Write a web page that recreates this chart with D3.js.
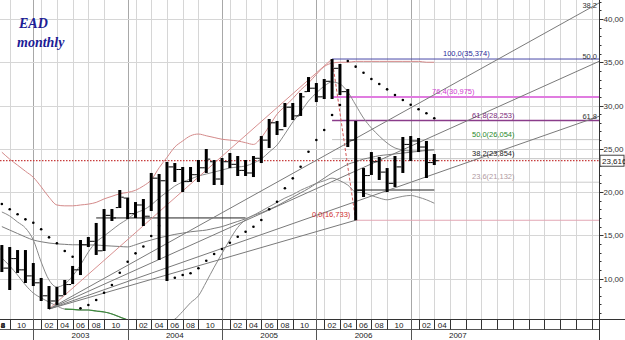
<!DOCTYPE html>
<html>
<head>
<meta charset="utf-8">
<script src="https://cdn.jsdelivr.net/npm/d3@7"></script>
<style>
  html, body { margin: 0; padding: 0; background: #fff; }
  svg { display: block; font-family: Arial, "Liberation Sans", sans-serif; }
</style>
</head>
<body>
<svg id="chart" width="625" height="340"></svg>
<script>
// month index: 0 = Jan 2003; first bar = Sep 2002
const firstMonth = -4;
const opens  = [13.4, 11.2, 12.3, 11.0, 10.3, 9.5, 8.0, 7.4, 8.0, 9.3, 11.0, 13.9, 14.3, 13.2, 17.3, 18.2,
  19.3, 17.5, 18.5, 17.2, 21.6, 21.3, 22.9, 22.6, 21.2, 22.0, 22.8, 23.5, 21.5, 23.5, 23.2, 22.5,
  22.2, 23.9, 26.0, 28.0, 27.2, 29.8, 28.8, 31.6, 32.0, 31.0, 32.8, 34.3, 31.6, 26.0, 20.2, 21.9,
  23.5, 22.3, 21.0, 22.9, 25.5, 25.9, 25.2, 23.4];
const highs  = [13.87, 13.64, 13.29, 13.29, 11.79, 10.06, 9.13, 9.02, 9.83, 11.45, 14.45, 14.80, 16.42, 18.03, 18.03, 20.23,
  19.36, 18.84, 19.19, 22.20, 22.08, 23.47, 23.35, 22.89, 22.89, 23.70, 24.97, 23.70, 23.93, 24.51, 24.16, 23.70,
  24.16, 26.47, 28.44, 28.21, 30.29, 30.29, 31.45, 33.29, 32.60, 33.06, 35.374, 34.80, 31.91, 28.21, 22.77, 24.62,
  24.05, 22.77, 24.16, 26.36, 26.47, 26.24, 25.90, 24.39];
const lows   = [10.75, 8.67, 10.64, 9.48, 9.13, 7.40, 6.47, 6.94, 8.09, 9.36, 10.40, 13.64, 12.72, 13.18, 16.65, 18.15,
  16.88, 16.99, 16.07, 17.80, 12.14, 9.71, 21.16, 20.00, 21.16, 21.16, 22.20, 20.81, 20.81, 22.77, 21.85, 21.85,
  21.73, 23.35, 25.09, 26.59, 27.51, 28.32, 28.79, 31.56, 30.40, 30.75, 30.75, 31.21, 25.20, 16.733, 19.42, 21.97,
  21.39, 20.00, 20.58, 22.20, 23.58, 24.62, 21.62, 23.12];
const closes = [11.2, 12.3, 11.0, 10.3, 9.5, 8.0, 7.4, 8.0, 9.3, 11.0, 13.9, 14.3, 13.2, 17.3, 17.0, 19.4,
  17.5, 18.5, 17.2, 21.6, 21.3, 22.9, 22.6, 21.2, 22.0, 22.8, 23.8, 21.5, 23.5, 23.2, 22.5, 22.2,
  23.9, 26.0, 28.0, 27.2, 29.8, 28.8, 31.0, 32.0, 31.0, 32.8, 34.3, 31.6, 26.0, 20.2, 21.9, 23.5,
  22.3, 21.0, 22.9, 25.5, 25.9, 25.2, 23.4, 23.616];

// parabolic SAR, one value per bar (null = not drawn)
const sar = [18.61, 18.0, 17.42, 16.84, 16.45, 15.69, 14.76, 14.07, 13.18, 12.52, 6.55, 6.94, 7.51, 8.36, 9.25, 10.67,
  11.94, 12.91, 13.70, 14.91, 16.10, null, 10.09, 10.4, 10.6, 11.18, 12.06, 12.83, 13.41, 14.14, 14.83, 15.41,
  15.99, 16.76, 18.0, 18.88, 20.43, 21.58, 22.92, 24.66, 26.01, 27.17, 28.90, 30.06, 35.14, 34.49, 33.79, 33.06,
  32.49, 31.87, 31.21, 30.64, 30.09, 29.56, 29.10, 28.52];

// bands and averages, one value per bar
const upperBand = [24.6, 23.8, 23.1, 22.4, 21.7, 20.6, 19.4, 18.5, 18.4, 18.4, 18.5, 18.6, 18.8, 19.2, 19.5, 19.8,
  19.95, 20.2, 20.7, 21.4, 22.8, 24.0, 25.2, 25.9, 26.5, 26.7, 26.5, 26.3, 26.1, 26.0, 25.9, 25.7,
  25.5, 26.3, 27.6, 29.0, 29.9, 30.8, 31.8, 32.6, 33.6, 34.5, 34.9, 35.0, 35.0, 35.1, 35.1, 35.1,
  35.1, 35.1, 35.1, 35.1, 35.1, 35.1, 35.0, 35.0];
const fastAvg = [17.69, 17.23, 16.53, 15.84, 14.45, 11.91, 9.83, 9.02, 9.36, 10.29, 11.56, 13.06, 14.22, 14.91, 15.61, 16.30,
  16.88, 17.57, 17.92, 18.50, 19.31, 20.0, 20.69, 21.16, 21.50, 21.85, 22.08, 22.31, 22.54, 22.77, 22.89, 23.01,
  23.35, 23.82, 24.62, 25.43, 26.71, 28.09, 29.25, 30.52, 31.45, 32.25, 32.72, 32.49, 31.56, 30.06, 28.55, 27.40,
  26.47, 25.66, 25.09, 24.86, 24.74, 24.74, 24.86, 24.86];
const slowAvg = [16.0, 15.6, 15.2, 14.8, 14.45, 14.25, 14.1, 14.0, 13.95, 13.9, 13.9, 13.88, 13.87, 13.8, 13.75, 13.7,
  13.65, 13.9, 14.2, 14.45, 14.7, 14.9, 15.1, 15.25, 15.4, 15.5, 15.6, 15.8, 16.0, 16.3, 16.6, 16.9,
  17.3, 17.6, 18.0, 18.4, 18.9, 19.4, 19.9, 20.4, 21.0, 21.6, 22.2, 22.7, 23.2, 23.5, 23.8, 24.0,
  24.2, 24.3, 24.4, 24.5, 24.6, 24.7, 24.8, 24.9];
const lowerBand = [12.37, 11.45, 10.40, 9.25, 8.32, 7.75, 7.28, 6.82, 6.47, 6.42, 6.36, 6.36, 6.24, 6.13, 5.90, 5.55,
  5.2, 4.8, 4.5, 4.4, 4.6, 5.0, 5.3, 6.2, 7.2, 8.0, 9.6, 11.3, 12.9, 14.5, 15.9, 16.8,
  17.3, 17.8, 18.3, 18.8, 19.3, 19.7, 20.2, 20.6, 21.0, 21.3, 21.6, 21.3, 20.8, 20.0, 19.9, 19.6,
  19.3, 19.1, 19.3, 19.5, 19.6, 19.4, 19.1, 18.7];
const greenFrom = 4, greenTo = 13;

// fibonacci retracement high (Mar 2006) and low (Jun 2006)
const fibHigh = { month: 38, value: 35.374 };
const fibLow = { month: 41, value: 16.733 };
const fibLevels = [100.0, 76.4, 61.8, 50.0, 38.2, 23.6, 0.0];
const fibColors = ['#4a4aa8', '#e07ce0', '#8a3c8a', '#c4c4c4', '#c4c4c4', '#cccccc', '#e2a6b4'];
const fibTextColors = ['#2a2a9a', '#d040d0', '#7a2a7a', '#2a8a2a', '#222222', '#b09aa0', '#d03030'];
const fibLabelX = [443, 432, 472, 472, 472, 472, 312];

// fibonacci fan from the Mar 2003 low; end values at the right edge
const fanStart = { month: 2, value: 6.47 };
const fanNames = ['38,2', '50,0', '61,8'];
const fanEnds = [41.85, 35.1, 28.75];
const fanLabelDy = [-2, -2, 3];

const yTicks = [10, 15, 20, 25, 30, 35, 40];
const lastPrice = 23.616;
const monthNames = ['02', '04', '06', '08', '10'];
const years = [2003, 2004, 2005, 2006, 2007];

const W = 625, H = 340;
const plotW = 599, plotH = 319;
const svg = d3.select('#chart');
const x = d3.scaleLinear().domain([-4.2353, 71.949]).range([0, plotW]);
const y = d3.scaleLinear().domain([5.318, 42.197]).range([plotH, 0]);
const comma = (v, d) => (v + 1e-7).toFixed(d).replace('.', ',');

svg.append('defs').append('clipPath').attr('id', 'plotClip')
  .append('rect').attr('x', 0).attr('y', 0).attr('width', plotW).attr('height', plotH);

const plot = svg.append('g').attr('clip-path', 'url(#plotClip)');

// month separators: Jan, Feb, Apr, Jun, Aug, Oct for full years, then every 2 months from 2007
const seps = [];
for (let yr = -1; yr < 4; yr++) [0, 1, 3, 5, 7, 9].forEach((m) => seps.push({ i: yr * 12 + m, year: m === 0 }));
seps.push({ i: 48, year: true });
for (let i = 49; i <= 71; i += 2) seps.push({ i, year: false });

// grid
plot.selectAll('.vgrid').data(seps).join('line')
  .attr('x1', (d) => Math.round(x(d.i)) + 0.5).attr('x2', (d) => Math.round(x(d.i)) + 0.5)
  .attr('y1', 0).attr('y2', plotH)
  .attr('stroke', (d) => (d.year ? '#a8a8a8' : '#d6d6d6')).attr('stroke-width', 1);
plot.selectAll('.hgrid').data(yTicks).join('line')
  .attr('x1', 0).attr('x2', plotW)
  .attr('y1', (d) => Math.round(y(d)) + 0.5).attr('y2', (d) => Math.round(y(d)) + 0.5)
  .attr('stroke', '#d6d6d6');

const months = d3.range(opens.length).map((k) => firstMonth + k);
const lineOf = (arr, from, to) => d3.line()
  .defined((d, k) => arr[k] !== null && (from === undefined || (d >= from && d <= to)))
  .x((d) => x(d)).y((d, k) => y(arr[k]))
  .curve(d3.curveMonotoneX)(months);

// fibonacci levels
const fibVal = (p) => fibLow.value + (p / 100) * (fibHigh.value - fibLow.value);
fibLevels.forEach((p, k) => {
  const v = fibVal(p);
  const start = p === 0 ? fibLow.month : fibHigh.month;
  plot.append('line')
    .attr('x1', x(start)).attr('x2', plotW)
    .attr('y1', y(v)).attr('y2', y(v))
    .attr('stroke', fibColors[k]).attr('stroke-width', p === 76.4 ? 2 : (p === 61.8 ? 1.5 : 1));
});
plot.append('line')
  .attr('x1', x(fibHigh.month)).attr('y1', y(fibHigh.value))
  .attr('x2', x(fibLow.month)).attr('y2', y(fibLow.value))
  .attr('stroke', '#d45a5a').attr('stroke-dasharray', '3,2');

// price line
plot.append('line')
  .attr('x1', 0).attr('x2', plotW)
  .attr('y1', y(lastPrice)).attr('y2', y(lastPrice))
  .attr('stroke', '#c83c3c').attr('stroke-width', 1.3).attr('stroke-dasharray', '1.5,1.5');

// horizontal support segments
plot.append('line').attr('x1', x(8)).attr('x2', x(27)).attr('y1', y(17.0)).attr('y2', y(17.0))
  .attr('stroke', '#222');
plot.append('line').attr('x1', x(41)).attr('x2', x(51)).attr('y1', y(20.23)).attr('y2', y(20.23))
  .attr('stroke', '#222');

// bands
plot.append('path').attr('d', lineOf(upperBand)).attr('fill', 'none').attr('stroke', '#d48a8a');
plot.append('path').attr('d', lineOf(slowAvg)).attr('fill', 'none').attr('stroke', '#7c7c7c');
plot.append('path').attr('d', lineOf(fastAvg)).attr('fill', 'none').attr('stroke', '#8a8a8a');
plot.append('path').attr('d', lineOf(lowerBand)).attr('fill', 'none').attr('stroke', '#8a8a8a');
plot.append('path').attr('d', lineOf(lowerBand, greenFrom, greenTo)).attr('fill', 'none')
  .attr('stroke', '#3c8a3c').attr('stroke-width', 1.2);

// fan and trend lines from the 2003 low
plot.append('line')
  .attr('x1', x(fanStart.month)).attr('y1', y(fanStart.value))
  .attr('x2', x(fibHigh.month)).attr('y2', y(fibHigh.value))
  .attr('stroke', '#d89090');
plot.append('line')
  .attr('x1', x(fanStart.month)).attr('y1', y(fanStart.value))
  .attr('x2', x(fibLow.month)).attr('y2', y(fibLow.value))
  .attr('stroke', '#7a7a7a');
fanEnds.forEach((v) => {
  plot.append('line')
    .attr('x1', x(fanStart.month)).attr('y1', y(fanStart.value))
    .attr('x2', plotW).attr('y2', y(v))
    .attr('stroke', '#7a7a7a');
});

// OHLC bars
const bars = plot.selectAll('.bar').data(months).join('g');
bars.append('rect')
  .attr('x', (d) => x(d) - 1.5).attr('width', 3)
  .attr('y', (d, k) => y(highs[k])).attr('height', (d, k) => y(lows[k]) - y(highs[k]))
  .attr('fill', '#000');
bars.append('line')
  .attr('x1', (d) => x(d) - 4).attr('x2', (d) => x(d) - 1.5)
  .attr('y1', (d, k) => y(opens[k])).attr('y2', (d, k) => y(opens[k]))
  .attr('stroke', '#000');
bars.append('line')
  .attr('x1', (d) => x(d) + 1.5).attr('x2', (d) => x(d) + 4)
  .attr('y1', (d, k) => y(closes[k])).attr('y2', (d, k) => y(closes[k]))
  .attr('stroke', '#000');

// SAR dots
plot.selectAll('.sar').data(months.filter((d, k) => sar[k] !== null)).join('circle')
  .attr('cx', (d) => x(d)).attr('cy', (d) => y(sar[d - firstMonth]))
  .attr('r', 1.3).attr('fill', '#000');

// fib labels
fibLevels.forEach((p, k) => {
  const v = fibVal(p);
  svg.append('text')
    .attr('x', fibLabelX[k]).attr('y', y(v) - 3)
    .attr('font-size', 7.5).attr('fill', fibTextColors[k])
    .text(`${comma(p, 1)}(${comma(v, 3)})`);
});
fanNames.forEach((n, k) => {
  svg.append('text')
    .attr('x', 597).attr('y', Math.max(8, y(fanEnds[k]) + fanLabelDy[k]))
    .attr('text-anchor', 'end').attr('font-size', 7.5).attr('fill', '#333')
    .text(n);
});

// title
svg.append('text').attr('x', 19).attr('y', 27.5)
  .attr('font-family', '"Liberation Serif", "DejaVu Serif", serif').attr('font-style', 'italic')
  .attr('font-weight', 'bold').attr('font-size', 14).attr('fill', '#1c1c96').text('EAD');
svg.append('text').attr('x', 17).attr('y', 46.5)
  .attr('font-family', '"Liberation Serif", "DejaVu Serif", serif').attr('font-style', 'italic')
  .attr('font-weight', 'bold').attr('font-size', 14).attr('fill', '#1c1c96').text('monthly');

// right axis
const yAxis = svg.append('g').attr('transform', `translate(${plotW + 0.5},0)`);
yAxis.append('line').attr('y1', 0).attr('y2', H).attr('stroke', '#333');
yAxis.selectAll('.minor').data(d3.range(6, 43)).join('line')
  .attr('x1', 0).attr('x2', 2).attr('y1', (d) => Math.round(y(d)) + 0.5).attr('y2', (d) => Math.round(y(d)) + 0.5)
  .attr('stroke', '#333');
yAxis.selectAll('.major').data(yTicks).join('line')
  .attr('x1', 0).attr('x2', 4).attr('y1', (d) => Math.round(y(d)) + 0.5).attr('y2', (d) => Math.round(y(d)) + 0.5)
  .attr('stroke', '#333');
yAxis.selectAll('.lab').data(yTicks).join('text')
  .attr('x', 4).attr('y', (d) => y(d) + 3)
  .attr('font-size', 8).attr('fill', '#333')
  .text((d) => comma(d, 2));
yAxis.append('rect').attr('x', 0.5).attr('y', y(lastPrice) - 5.5).attr('width', 24).attr('height', 11)
  .attr('fill', '#fff').attr('stroke', '#444');
yAxis.append('text').attr('x', 2.5).attr('y', y(lastPrice) + 3)
  .attr('font-size', 8).attr('fill', '#222').text(comma(lastPrice, 3));

// bottom rows
const rows = svg.append('g');
rows.append('line').attr('x1', 0).attr('x2', W).attr('y1', plotH + 0.5).attr('y2', plotH + 0.5).attr('stroke', '#333');
rows.append('line').attr('x1', 0).attr('x2', plotW).attr('y1', 329.5).attr('y2', 329.5).attr('stroke', '#555');
rows.selectAll('.msep').data(seps.filter((d) => x(d.i) >= 0 && x(d.i) < plotW)).join('line')
  .attr('x1', (d) => Math.round(x(d.i)) + 0.5).attr('x2', (d) => Math.round(x(d.i)) + 0.5)
  .attr('y1', plotH).attr('y2', (d) => (d.year ? H : 329.5))
  .attr('stroke', (d) => (d.year ? '#555' : '#333'));
const boxes = [];
for (let k = 0; k < seps.length - 1; k++) {
  const a = seps[k].i, b = seps[k + 1].i;
  const m = ((a % 12) + 12) % 12;
  let label = '';
  if (a < 48 && m % 2 === 1) label = monthNames[(m - 1) / 2];
  if (a === 49) label = '02';
  if (a === 51) label = '04';
  // first box is cut by the left edge: only its last digit shows
  if (label && x(a) < 0) label = label.slice(1);
  if (label) boxes.push({ c: Math.max((a + b) / 2, x.invert(3)), label });
}
rows.selectAll('.mlab').data(boxes).join('text')
  .attr('x', (d) => x(d.c)).attr('y', 327.5)
  .attr('text-anchor', 'middle').attr('font-size', 8).attr('fill', '#222')
  .text((d) => d.label);
rows.selectAll('.ylab').data(years).join('text')
  .attr('x', (d) => (x((d - 2003) * 12) + Math.min(plotW, x((d - 2002) * 12))) / 2).attr('y', 338)
  .attr('text-anchor', 'middle').attr('font-size', 8).attr('fill', '#222')
  .text((d) => d);
</script>
</body>
</html>
